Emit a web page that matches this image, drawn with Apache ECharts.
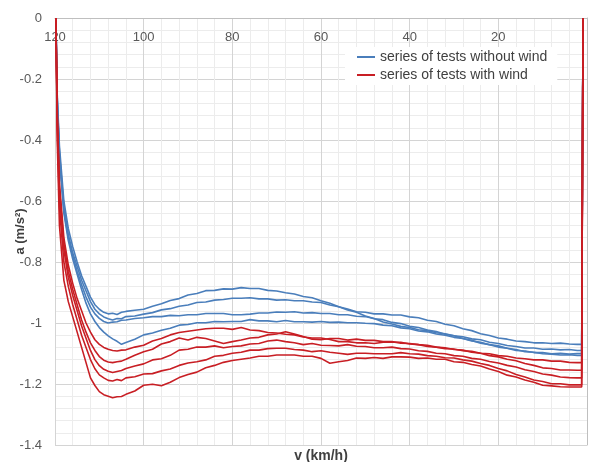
<!DOCTYPE html>
<html>
<head>
<meta charset="utf-8">
<script src="https://cdn.jsdelivr.net/npm/echarts@6/dist/echarts.min.js"></script>
<style>html,body{margin:0;padding:0;background:#fff}#c{width:589px;height:462px}</style>
</head>
<body>
<div id="c"></div>
<script>
// speed grid (km/h) shared by all test runs
const V = [119.8,119.5,119,118,117,116,115,114,113,112,111,110,109,108,107,106,105,104,
102,100,98,96,94,92,90,88,86,84,82,80,78,76,74,72,70,68,66,64,62,60,58,56,54,52,50,48,46,44,42,40,
38,36,34,32,30,28,26,24,22,20,18,16,14,12,10,8,6,4,2.2,1.2,0.9];

// series of tests without wind (deceleration a, m/s^2)
const B1 = [0,-0.25,-0.42,-0.60,-0.69,-0.75,-0.80,-0.845,-0.88,-0.915,-0.94,-0.955,-0.965,-0.97,-0.968,-0.972,-0.965,-0.962,
-0.958,-0.955,-0.945,-0.937,-0.926,-0.92,-0.908,-0.903,-0.894,-0.893,-0.888,-0.889,-0.884,-0.887,-0.887,-0.893,-0.895,-0.901,-0.905,-0.913,-0.917,-0.927,-0.935,-0.947,-0.954,-0.963,-0.965,-0.97,-0.97,-0.974,-0.974,-0.98,
-0.983,-0.991,-0.995,-1.004,-1.009,-1.019,-1.025,-1.035,-1.041,-1.049,-1.053,-1.059,-1.061,-1.065,-1.065,-1.067,-1.066,-1.069,-1.07,-1.07,0];
const B2 = [0,-0.26,-0.44,-0.62,-0.71,-0.77,-0.815,-0.86,-0.895,-0.93,-0.955,-0.97,-0.98,-0.986,-0.99,-0.985,-0.986,-0.979,
-0.977,-0.971,-0.966,-0.957,-0.953,-0.945,-0.941,-0.933,-0.931,-0.925,-0.923,-0.919,-0.919,-0.917,-0.921,-0.921,-0.925,-0.924,-0.927,-0.927,-0.931,-0.933,-0.941,-0.947,-0.957,-0.965,-0.977,-0.985,-0.997,-1.003,-1.011,-1.015,
-1.022,-1.025,-1.032,-1.035,-1.042,-1.045,-1.052,-1.055,-1.063,-1.067,-1.074,-1.077,-1.082,-1.082,-1.086,-1.085,-1.088,-1.087,-1.09,-1.09,0];
const B3 = [0,-0.27,-0.45,-0.63,-0.72,-0.78,-0.83,-0.875,-0.915,-0.948,-0.97,-0.985,-0.995,-1.0,-0.997,-0.996,-0.991,-0.99,
-0.985,-0.983,-0.979,-0.979,-0.975,-0.976,-0.973,-0.973,-0.969,-0.969,-0.969,-0.973,-0.973,-0.971,-0.967,-0.967,-0.964,-0.965,-0.963,-0.967,-0.966,-0.969,-0.969,-0.973,-0.973,-0.978,-0.979,-0.986,-0.989,-0.998,-1.002,-1.011,
-1.015,-1.023,-1.028,-1.037,-1.042,-1.051,-1.057,-1.066,-1.071,-1.079,-1.083,-1.09,-1.092,-1.097,-1.097,-1.101,-1.099,-1.102,-1.1,-1.1,0];
const B4 = [0,-0.28,-0.46,-0.64,-0.73,-0.79,-0.84,-0.89,-0.935,-0.97,-0.995,-1.015,-1.03,-1.042,-1.052,-1.06,-1.07,-1.064,
-1.053,-1.039,-1.033,-1.024,-1.017,-1.007,-1.005,-0.999,-0.999,-0.995,-0.996,-0.995,-0.995,-0.989,-0.993,-0.993,-0.996,-0.992,-0.996,-0.996,-0.997,-0.995,-0.998,-0.997,-0.999,-0.999,-1.001,-1.002,-1.007,-1.009,-1.016,-1.019,
-1.026,-1.029,-1.036,-1.04,-1.047,-1.051,-1.059,-1.063,-1.071,-1.075,-1.083,-1.087,-1.094,-1.096,-1.101,-1.102,-1.105,-1.104,-1.106,-1.106,0];

// series of tests with wind
const R1 = [0,-0.30,-0.54,-0.72,-0.81,-0.87,-0.92,-0.96,-1.0,-1.03,-1.055,-1.07,-1.08,-1.086,-1.09,-1.092,-1.089,-1.088,
-1.079,-1.073,-1.059,-1.051,-1.039,-1.031,-1.027,-1.023,-1.019,-1.017,-1.017,-1.021,-1.015,-1.023,-1.025,-1.031,-1.033,-1.037,-1.039,-1.046,-1.049,-1.049,-1.054,-1.061,-1.061,-1.065,-1.065,-1.067,-1.063,-1.063,-1.063,-1.069,
-1.071,-1.077,-1.079,-1.084,-1.085,-1.091,-1.093,-1.099,-1.101,-1.107,-1.109,-1.115,-1.117,-1.121,-1.121,-1.125,-1.125,-1.129,-1.13,-1.13,0];
const R2 = [0,-0.32,-0.56,-0.74,-0.83,-0.89,-0.94,-0.99,-1.03,-1.065,-1.09,-1.11,-1.122,-1.128,-1.13,-1.127,-1.125,-1.119,
-1.106,-1.094,-1.086,-1.069,-1.061,-1.049,-1.056,-1.047,-1.051,-1.059,-1.067,-1.061,-1.056,-1.049,-1.047,-1.039,-1.036,-1.029,-1.036,-1.044,-1.053,-1.055,-1.051,-1.051,-1.056,-1.053,-1.057,-1.057,-1.061,-1.061,-1.066,-1.067,
-1.071,-1.073,-1.079,-1.081,-1.087,-1.089,-1.096,-1.099,-1.107,-1.111,-1.119,-1.124,-1.133,-1.139,-1.147,-1.149,-1.154,-1.154,-1.155,-1.155,0];
const R3 = [0,-0.33,-0.58,-0.76,-0.85,-0.91,-0.96,-1.01,-1.05,-1.09,-1.12,-1.14,-1.152,-1.158,-1.162,-1.159,-1.156,-1.149,
-1.141,-1.134,-1.121,-1.117,-1.106,-1.089,-1.086,-1.079,-1.079,-1.075,-1.081,-1.077,-1.075,-1.069,-1.067,-1.059,-1.056,-1.061,-1.065,-1.071,-1.067,-1.073,-1.074,-1.075,-1.071,-1.076,-1.077,-1.081,-1.081,-1.079,-1.084,-1.085,
-1.091,-1.093,-1.099,-1.101,-1.107,-1.109,-1.116,-1.119,-1.126,-1.131,-1.139,-1.144,-1.153,-1.159,-1.167,-1.171,-1.177,-1.179,-1.18,-1.18,0];
const R4 = [0,-0.36,-0.62,-0.80,-0.88,-0.94,-0.99,-1.04,-1.08,-1.12,-1.15,-1.17,-1.18,-1.188,-1.19,-1.185,-1.189,-1.18,
-1.176,-1.167,-1.166,-1.157,-1.151,-1.139,-1.131,-1.127,-1.121,-1.109,-1.106,-1.099,-1.096,-1.089,-1.089,-1.084,-1.083,-1.083,-1.087,-1.089,-1.094,-1.091,-1.096,-1.099,-1.103,-1.099,-1.099,-1.101,-1.101,-1.101,-1.097,-1.101,
-1.102,-1.107,-1.109,-1.114,-1.115,-1.121,-1.125,-1.133,-1.139,-1.149,-1.157,-1.169,-1.177,-1.187,-1.192,-1.199,-1.199,-1.203,-1.203,-1.203,0];
const R5 = [0,-0.40,-0.68,-0.86,-0.93,-0.98,-1.03,-1.08,-1.13,-1.18,-1.205,-1.225,-1.235,-1.24,-1.245,-1.242,-1.241,-1.234,
-1.223,-1.204,-1.201,-1.206,-1.194,-1.179,-1.169,-1.161,-1.147,-1.139,-1.129,-1.123,-1.119,-1.115,-1.109,-1.109,-1.105,-1.105,-1.105,-1.109,-1.109,-1.116,-1.132,-1.127,-1.123,-1.115,-1.116,-1.113,-1.116,-1.111,-1.111,-1.112,
-1.116,-1.115,-1.119,-1.119,-1.127,-1.129,-1.136,-1.141,-1.151,-1.159,-1.171,-1.177,-1.187,-1.194,-1.204,-1.206,-1.209,-1.21,-1.21,-1.21,0];

const NAME_BLUE = 'series of tests without wind';
const NAME_RED = 'series of tests with wind';
const X_TICKS = [0,20,40,60,80,100,120];
const Y_TICKS = [0,-0.2,-0.4,-0.6,-0.8,-1,-1.2,-1.4];

const BLUE = '#4a7ebb';
const RED = '#c81e24';

function mk(name, arr, color) {
  return {
    name: name, type: 'line', showSymbol: false, symbol: 'none',
    data: V.map((v, i) => [v, arr[i]]),
    lineStyle: { color: color, width: 1.6 },
    itemStyle: { color: color },
    emphasis: { disabled: true },
    z: 2
  };
}

const chart = echarts.init(document.getElementById('c'), null, { renderer: 'canvas' });
chart.setOption({
  animation: false,
  backgroundColor: '#ffffff',
  textStyle: { fontFamily: 'Liberation Sans, Arial, sans-serif' },
  grid: { left: 55, right: 2, top: 18, bottom: 17, containLabel: false, outerBoundsMode: 'none' },
  xAxis: {
    type: 'value', inverse: true, position: 'top',
    min: X_TICKS[0], max: X_TICKS[X_TICKS.length - 1], interval: 20,
    axisLine: { show: true, onZero: false, lineStyle: { color: '#bfbfbf', width: 1 } },
    axisTick: { show: false },
    axisLabel: { inside: true, margin: 13, color: '#595959', fontSize: 13, showMinLabel: false },
    splitLine: { show: true, lineStyle: { color: '#d4d4d4', width: 1 } },
    minorTick: { show: false, splitNumber: 5 },
    minorSplitLine: { show: true, lineStyle: { color: '#ececec', width: 1 } }
  },
  yAxis: {
    type: 'value', min: Y_TICKS[Y_TICKS.length - 1], max: Y_TICKS[0], interval: 0.2,
    name: 'a (m/s²)', nameLocation: 'middle', nameGap: 28, nameRotate: 90, nameMoveOverlap: false,
    nameTextStyle: { fontWeight: 'bold', fontSize: 13, color: '#404040' },
    axisLine: { show: true, lineStyle: { color: '#bfbfbf', width: 1 } },
    axisTick: { show: false },
    axisLabel: { margin: 13, color: '#595959', fontSize: 13 },
    splitLine: { show: true, lineStyle: { color: '#d4d4d4', width: 1 } },
    minorTick: { show: false, splitNumber: 5 },
    minorSplitLine: { show: true, lineStyle: { color: '#ececec', width: 1 } }
  },
  legend: {
    orient: 'vertical', left: 345, top: 47,
    padding: [3, 10, 3, 12], itemGap: 4,
    itemWidth: 18, itemHeight: 2, icon: 'rect',
    backgroundColor: '#ffffff',
    textStyle: { fontSize: 14, color: '#404040' },
    data: [NAME_BLUE, NAME_RED]
  },
  graphic: [{
    type: 'text', x: 321, y: 456,
    style: { text: 'v (km/h)', font: 'bold 14px Liberation Sans, Arial, sans-serif', fill: '#404040', align: 'center', verticalAlign: 'middle' }
  }],
  series: [
    mk(NAME_BLUE, B1, BLUE), mk(NAME_BLUE, B2, BLUE), mk(NAME_BLUE, B3, BLUE), mk(NAME_BLUE, B4, BLUE),
    mk(NAME_RED, R1, RED), mk(NAME_RED, R2, RED), mk(NAME_RED, R3, RED), mk(NAME_RED, R4, RED), mk(NAME_RED, R5, RED)
  ]
});
</script>
</body>
</html>
